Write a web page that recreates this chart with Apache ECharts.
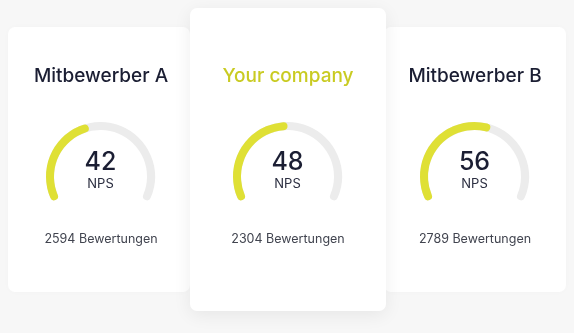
<!DOCTYPE html>
<html>
<head>
<meta charset="utf-8">
<script src="https://cdn.jsdelivr.net/npm/echarts@6/dist/echarts.min.js"></script>
<style>
  html, body { margin: 0; padding: 0; background: #f7f7f7; }
  #main { width: 574px; height: 333px; }
</style>
</head>
<body>
<div id="main"></div>
<script>
// Daten
var companies = ['Mitbewerber A', 'Your company', 'Mitbewerber B'];
var npsValues = [42, 48, 56];
var reviewCounts = [2594, 2304, 2789];

var cardX = [8, 190, 384];
var cardW = [182, 196, 182];
var cardY = [27, 8, 27];
var cardH = [265, 303, 265];
var centerX = [101, 288, 475];
var highlight = 1;

var myChart = echarts.init(document.getElementById('main'));

var graphics = [];
var series = [];
// Seitenkarten zuerst, mittlere Karte oben drauf
[0, 2, 1].forEach(function (i) {
    graphics.push({
        type: 'rect',
        z: i == highlight ? 1 : 0,
        shape: { x: cardX[i], y: cardY[i], width: cardW[i], height: cardH[i], r: 7 },
        style: {
            fill: '#ffffff',
            shadowBlur: i == highlight ? 18 : 6,
            shadowColor: i == highlight ? 'rgba(0,0,0,0.07)' : 'rgba(0,0,0,0.02)',
            shadowOffsetY: i == highlight ? 4 : 0
        }
    });
});

for (var i = 0; i < companies.length; i++) {
    graphics.push({
        type: 'text',
        z: 5,
        x: centerX[i],
        y: 76.5,
        style: {
            text: companies[i],
            align: 'center',
            verticalAlign: 'middle',
            font: '500 19px Inter',
            fill: i == highlight ? '#c9cb22' : '#1b1e33'
        }
    });
    graphics.push({
        type: 'text',
        z: 5,
        x: centerX[i],
        y: 239,
        style: {
            text: reviewCounts[i] + ' Bewertungen',
            align: 'center',
            verticalAlign: 'middle',
            font: '400 12.5px Inter',
            fill: '#41444f'
        }
    });
    series.push({
        type: 'gauge',
        z: 3,
        center: [centerX[i] - 0.5, 176.5],
        radius: 54.5,
        startAngle: 203,
        endAngle: -23,
        min: 0,
        max: 100,
        pointer: { show: false },
        progress: {
            show: true,
            roundCap: true,
            width: 8,
            itemStyle: { color: '#dfe035' }
        },
        axisLine: {
            roundCap: true,
            lineStyle: { width: 8, color: [[1, '#ececec']] }
        },
        axisTick: { show: false },
        splitLine: { show: false },
        axisLabel: { show: false },
        anchor: { show: false },
        title: {
            offsetCenter: [0, 8],
            fontFamily: 'Inter',
            fontSize: 13,
            color: '#2b2e40'
        },
        detail: {
            offsetCenter: [0, -14],
            valueAnimation: false,
            fontFamily: 'Inter',
            fontSize: 25,
            fontWeight: 500,
            color: '#1b1e33'
        },
        data: [{ value: npsValues[i], name: 'NPS' }]
    });
}

myChart.setOption({
    backgroundColor: '#f7f7f7',
    animation: false,
    graphic: graphics,
    series: series
});
</script>
</body>
</html>
